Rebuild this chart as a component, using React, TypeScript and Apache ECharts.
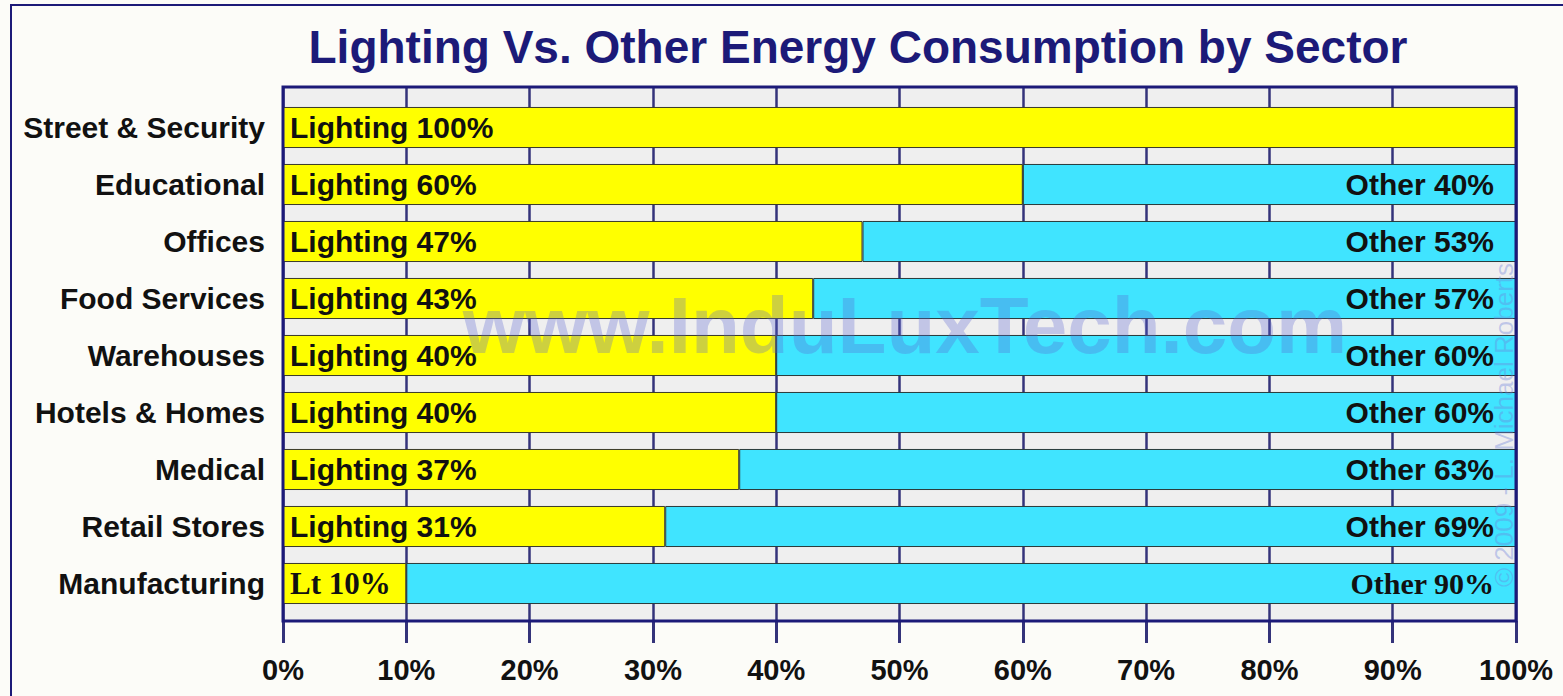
import React, { useEffect, useRef } from "react";
import * as echarts from "echarts";

// Sectors, top to bottom
const categories = [
  "Street & Security",
  "Educational",
  "Offices",
  "Food Services",
  "Warehouses",
  "Hotels & Homes",
  "Medical",
  "Retail Stores",
  "Manufacturing",
];
// Share of energy used for lighting (%)
const lighting = [100, 60, 47, 43, 40, 40, 37, 31, 10];
// Share of energy used for everything else (%)
const other = [0, 40, 53, 57, 60, 60, 63, 69, 90];
// Text shown before the lighting value in each bar
const lightingNames = ["Lighting", "Lighting", "Lighting", "Lighting", "Lighting", "Lighting", "Lighting", "Lighting", "Lt"];
// Rows whose bar labels are set in a serif face
const serifRows = [false, false, false, false, false, false, false, false, true];
const xTicks = [0, 10, 20, 30, 40, 50, 60, 70, 80, 90, 100];

const NAVY = "#1c1a78";
const GRIDLINE = "#34337a";
const SANS = "Arial, 'Liberation Sans', sans-serif";
const SERIF = "'Times New Roman', 'Liberation Serif', serif";

// Plot frame (outer grid) and bar band area (inner grid), in pixels
const PLOT = { left: 283, right: 1516, top: 87, bottom: 621 };
const BANDS = { top: 99, bottom: 612 };
const W = 1563;
const H = 696;

export default function App() {
  const ref = useRef<HTMLDivElement>(null);

  useEffect(() => {
    const chart = echarts.init(ref.current!, undefined, { renderer: "svg" });

    const labelFont = (i: number) => (serifRows[i] ? SERIF : SANS);

    const lightingData = lighting.map((v, i) => ({
      value: v,
      label: {
        show: true,
        position: "insideLeft",
        distance: 7,
        formatter: `${lightingNames[i]} ${v}%`,
        fontFamily: labelFont(i),
        fontSize: serifRows[i] ? 31 : 30,
        fontWeight: "bold",
        color: "#111",
      },
    }));

    const otherData = other.map((v, i) => ({
      value: v,
      label: {
        show: v > 0,
        position: "insideRight",
        distance: 22,
        formatter: `Other ${v}%`,
        fontFamily: labelFont(i),
        fontSize: 30,
        fontWeight: "bold",
        color: "#111",
      },
    }));

    const xMin = xTicks[0];
    const xMax = xTicks[xTicks.length - 1];

    chart.setOption({
      animation: false,
      backgroundColor: "#fcfcf8",
      title: {
        text: "Lighting Vs. Other Energy Consumption by Sector",
        left: 853,
        textAlign: "center",
        top: 19,
        textStyle: {
          color: NAVY,
          fontFamily: SANS,
          fontWeight: "bold",
          fontSize: 46,
        },
      },
      grid: [
        {
          left: PLOT.left,
          right: W - PLOT.right,
          top: PLOT.top,
          bottom: H - PLOT.bottom,
          show: true,
          backgroundColor: "#efefef",
          borderWidth: 0,
        },
        {
          left: PLOT.left,
          right: W - PLOT.right,
          top: BANDS.top,
          bottom: H - BANDS.bottom,
        },
      ],
      xAxis: [
        {
          gridIndex: 0,
          type: "value",
          min: xMin,
          max: xMax,
          interval: 10,
          axisLine: { show: false },
          axisTick: { show: true, length: 22, lineStyle: { color: GRIDLINE, width: 3 } },
          splitLine: { show: true, lineStyle: { color: GRIDLINE, width: 2.5 } },
          axisLabel: {
            margin: 34,
            formatter: "{value}%",
            fontFamily: SANS,
            fontSize: 29,
            fontWeight: "bold",
            color: "#111",
          },
        },
        {
          gridIndex: 1,
          type: "value",
          min: xMin,
          max: xMax,
          show: false,
        },
      ],
      yAxis: [
        { gridIndex: 0, type: "value", show: false },
        {
          gridIndex: 1,
          type: "category",
          data: categories,
          inverse: true,
          axisLine: { show: false },
          axisTick: { show: false },
          axisLabel: {
            margin: 18,
            fontFamily: SANS,
            fontSize: 30,
            fontWeight: "bold",
            color: "#111",
          },
        },
      ],
      series: [
        {
          name: "Lighting",
          type: "bar",
          xAxisIndex: 1,
          yAxisIndex: 1,
          stack: "total",
          barCategoryGap: "28%",
          data: lightingData,
          itemStyle: { color: "#ffff00", borderColor: "#3a3a2a", borderWidth: 1 },
        },
        {
          name: "Other",
          type: "bar",
          xAxisIndex: 1,
          yAxisIndex: 1,
          stack: "total",
          barCategoryGap: "28%",
          data: otherData,
          itemStyle: { color: "#40e4ff", borderColor: "#2a3a3a", borderWidth: 1 },
        },
      ],
      graphic: [
        // plot frame drawn over the bar ends
        {
          type: "rect",
          shape: {
            x: PLOT.left,
            y: PLOT.top,
            width: PLOT.right - PLOT.left,
            height: PLOT.bottom - PLOT.top,
          },
          style: { fill: "none", stroke: NAVY, lineWidth: 3 },
          z: 50,
          silent: true,
        },
        // outer page frame
        {
          type: "rect",
          shape: { x: 11, y: 5, width: 1700, height: 900 },
          style: { fill: "none", stroke: NAVY, lineWidth: 2 },
          z: 100,
          silent: true,
        },
        {
          type: "text",
          x: 905,
          y: 325,
          z: 100,
          silent: true,
          style: {
            text: "www.InduLuxTech.com",
            font: `bold 80px ${SANS}`,
            fill: "rgba(90, 100, 210, 0.3)",
            textAlign: "center",
            textVerticalAlign: "middle",
          },
        },
        {
          type: "text",
          x: 1504,
          y: 425,
          rotation: Math.PI / 2,
          z: 100,
          silent: true,
          style: {
            text: "© 2009 - L. Michael Roberts",
            font: `26px ${SANS}`,
            fill: "rgba(110, 130, 220, 0.38)",
            textAlign: "center",
            textVerticalAlign: "middle",
          },
        },
      ],
    });

    return () => chart.dispose();
  }, []);

  return (
    <div
      ref={ref}
      style={{ position: "fixed", left: 0, top: 0, width: W, height: H }}
    />
  );
}
